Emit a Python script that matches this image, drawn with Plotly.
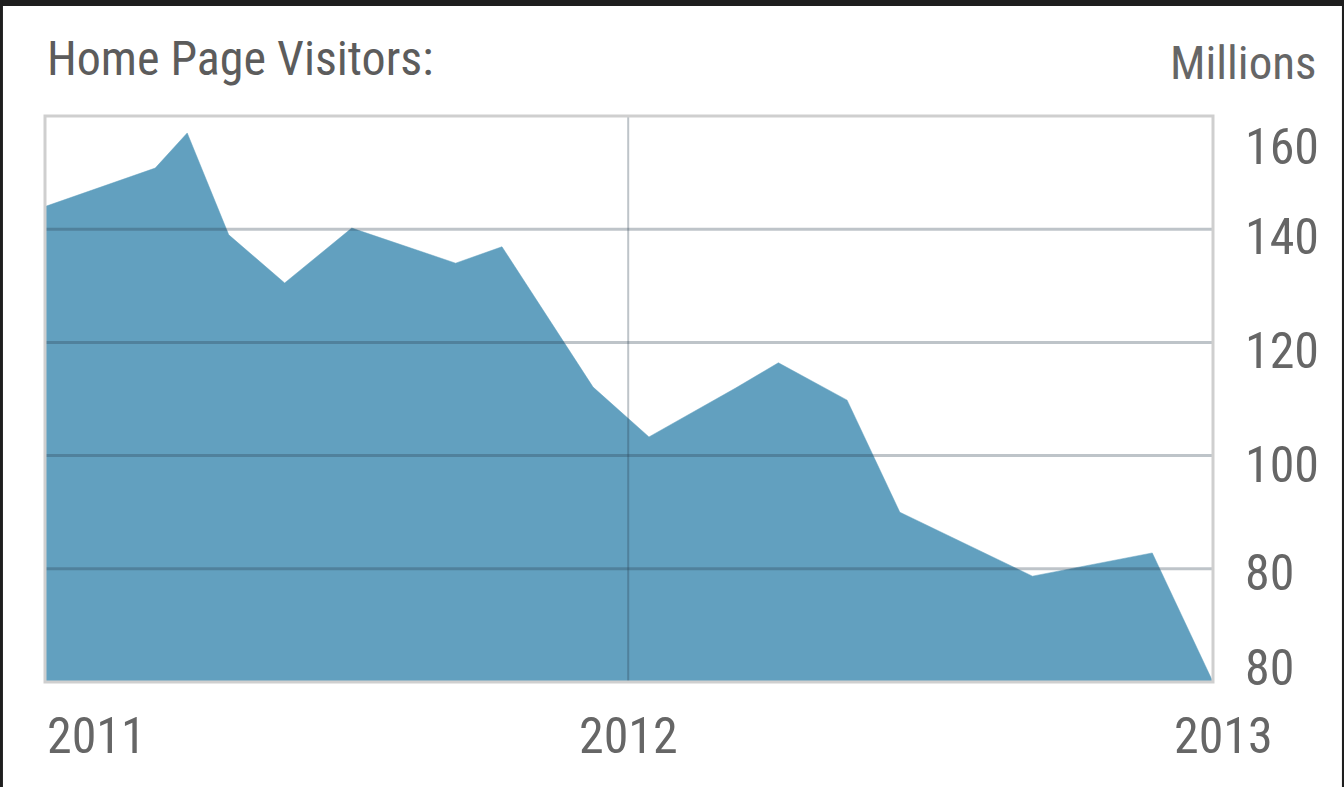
import plotly.graph_objects as go

# Monthly home page visitors (millions)
dates = ["2011-01-01", "2011-03-11", "2011-03-31", "2011-04-26", "2011-05-31",
         "2011-07-12", "2011-09-15", "2011-10-14", "2011-12-10", "2012-01-14",
         "2012-03-08", "2012-04-04", "2012-05-17", "2012-06-19", "2012-09-10",
         "2012-11-24", "2013-01-01"]
visitors = [144.0, 150.8, 157.0, 139.0, 130.5, 140.2, 134.0, 136.9, 112.1, 103.3,
            111.9, 116.4, 109.8, 90.0, 78.7, 82.8, 60.0]

y_ticks = [60, 80, 100, 120, 140, 160]
y_tick_text = ["80", "80", "100", "120", "140", "160"]
year_ticks = ["2011-01-01", "2012-01-01", "2013-01-01"]
year_text = ["2011", "2012", "2013"]

FONT = "Roboto Condensed, Liberation Sans Narrow, Arial Narrow, DejaVu Sans Condensed, sans-serif"
TEXT = "#666666"
FILL = "#62a0bf"
GRID = "rgba(40,60,75,0.30)"

fig = go.Figure()
fig.add_trace(go.Scatter(
    x=dates, y=visitors, mode="lines", fill="tozeroy",
    fillcolor=FILL, line=dict(color=FILL, width=0.5),
    hoverinfo="x+y", showlegend=False,
))

shapes = []
# gridlines drawn over the area so they read darker inside the fill
for v in y_ticks[1:-1]:
    shapes.append(dict(type="line", xref="paper", yref="y", x0=0, x1=1, y0=v, y1=v,
                       line=dict(color=GRID, width=3), layer="above"))
shapes.append(dict(type="line", xref="x", yref="paper", x0=year_ticks[1], x1=year_ticks[1],
                   y0=0, y1=1, line=dict(color=GRID, width=2), layer="above"))
# plot frame
shapes.append(dict(type="rect", xref="paper", yref="paper", x0=0, x1=1, y0=0, y1=1,
                   line=dict(color="#cfcfcf", width=3), layer="above"))
# dark screen border
for x0, x1, y0, y1 in [(-0.04, 1.12, 1.1943, 1.21), (-0.04, -0.0360, -0.2, 1.21),
                       (1.1104, 1.12, -0.2, 1.21)]:
    shapes.append(dict(type="rect", xref="paper", yref="paper", x0=x0, x1=x1, y0=y0, y1=y1,
                       fillcolor="#1e1e1e", line=dict(width=0), layer="above"))

annotations = [
    dict(text="Home Page Visitors:", xref="paper", yref="paper", x=0, y=1.1015,
         xanchor="left", yanchor="middle", showarrow=False,
         font=dict(family=FONT, size=48, color="#5c5c5c")),
    dict(text="Millions", xref="paper", yref="paper", x=1.0899, y=1.094,
         xanchor="right", yanchor="middle", showarrow=False,
         font=dict(family=FONT, size=47, color=TEXT)),
]

label_shift = [14, -4, -9, -9, -8, -31]
for v, t, s in zip(y_ticks, y_tick_text, label_shift):
    annotations.append(dict(text=t, xref="paper", yref="y", x=1, y=v, xshift=30, yshift=s,
                            xanchor="left", yanchor="middle", showarrow=False,
                            font=dict(family=FONT, size=50, color=TEXT)))

year_anchor = ["left", "center", "center"]
year_shift = [0, 0, 10]
for d, t, a, s in zip(year_ticks, year_text, year_anchor, year_shift):
    annotations.append(dict(text=t, xref="x", yref="paper", x=d, y=-0.0954, xshift=s,
                            xanchor=a, yanchor="middle", showarrow=False,
                            font=dict(family=FONT, size=50, color=TEXT)))

fig.update_layout(
    width=1344, height=787,
    margin=dict(l=45, r=131, t=116, b=105),
    paper_bgcolor="white", plot_bgcolor="white",
    xaxis=dict(type="date", range=["2011-01-01", "2013-01-01"], showgrid=False,
               showticklabels=False, zeroline=False, fixedrange=True),
    yaxis=dict(range=[60, 160], showgrid=False, showticklabels=False,
               zeroline=False, fixedrange=True),
    shapes=shapes, annotations=annotations,
)

fig.write_html("out.html")
